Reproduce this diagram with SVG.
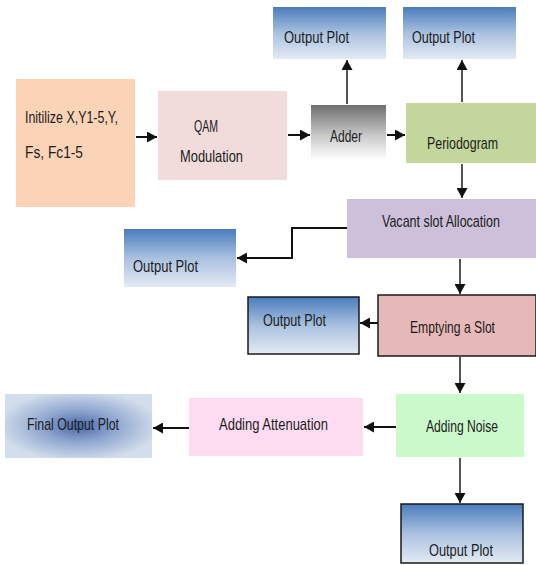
<svg xmlns="http://www.w3.org/2000/svg" width="536" height="565" viewBox="0 0 536 565">
<style>
text{font-family:"Liberation Sans",Arial,sans-serif;font-size:17px;fill:#1c1c1c;}
.k{fill:none;stroke:#111;stroke-width:2;marker-end:url(#ah);}
.g{fill:none;stroke:#555;stroke-width:2;marker-end:url(#ah);}
.bd{stroke:#1a1a1a;stroke-width:1.5;}
</style>
<defs>
<linearGradient id="blue" x1="0" y1="0" x2="0" y2="1">
<stop offset="0" stop-color="#4a7dbd"/>
<stop offset="0.5" stop-color="#a9c1df"/>
<stop offset="1" stop-color="#e3eaf4"/>
</linearGradient>
<linearGradient id="gray" x1="0" y1="0" x2="0" y2="1">
<stop offset="0" stop-color="#6e6e6e"/>
<stop offset="0.55" stop-color="#c8c8c8"/>
<stop offset="1" stop-color="#ffffff"/>
</linearGradient>
<radialGradient id="rad" cx="0.5" cy="0.5" r="0.55">
<stop offset="0" stop-color="#4868a8"/>
<stop offset="0.45" stop-color="#8ea6cf"/>
<stop offset="1" stop-color="#d3deec"/>
</radialGradient>
<marker id="ah" markerUnits="userSpaceOnUse" markerWidth="10" markerHeight="11" refX="10" refY="5.5" orient="auto">
<path d="M0,0 L10,5.5 L0,11 z" fill="#111"/>
</marker>
</defs>

<g id="init"><rect x="16" y="79" width="119" height="128" fill="#fbd4b8"/>
<text x="25" y="123" textLength="93" lengthAdjust="spacingAndGlyphs">Initilize X,Y1-5,Y,</text><text x="25" y="158" textLength="58" lengthAdjust="spacingAndGlyphs">Fs, Fc1-5</text></g>

<g id="qam"><rect x="158" y="91" width="129" height="89" fill="#f2dcdb"/>
<text x="194" y="132" textLength="24" lengthAdjust="spacingAndGlyphs">QAM</text><text x="180" y="162" textLength="63" lengthAdjust="spacingAndGlyphs">Modulation</text></g>

<g id="adder"><rect x="311" y="105" width="75" height="55" fill="url(#gray)"/>
<text x="330" y="142" textLength="32" lengthAdjust="spacingAndGlyphs">Adder</text></g>

<g id="periodogram"><rect x="406" y="103" width="130" height="60" fill="#c3d69b"/>
<text x="427" y="149" textLength="71" lengthAdjust="spacingAndGlyphs">Periodogram</text></g>

<g id="out1"><rect x="273" y="7" width="113" height="52" fill="url(#blue)"/>
<text x="284" y="43" textLength="65" lengthAdjust="spacingAndGlyphs">Output Plot</text></g>

<g id="out2"><rect x="403" y="7" width="113" height="52" fill="url(#blue)"/>
<text x="412" y="43" textLength="63" lengthAdjust="spacingAndGlyphs">Output Plot</text></g>

<g id="vacant"><rect x="347" y="199" width="189" height="59" fill="#ccc0da"/>
<text x="382" y="227" textLength="118" lengthAdjust="spacingAndGlyphs">Vacant slot Allocation</text></g>

<g id="out3"><rect x="124" y="229" width="112" height="58" fill="url(#blue)"/>
<text x="133" y="272" textLength="65" lengthAdjust="spacingAndGlyphs">Output Plot</text></g>

<g id="emptying"><rect x="378" y="295" width="158" height="61" fill="#e6b9b8" class="bd"/>
<text x="410" y="333" textLength="85" lengthAdjust="spacingAndGlyphs">Emptying a Slot</text></g>

<g id="out4"><rect x="248" y="297" width="111" height="57" fill="url(#blue)" class="bd"/>
<text x="263" y="326" textLength="63" lengthAdjust="spacingAndGlyphs">Output Plot</text></g>

<g id="noise"><rect x="396" y="394" width="128" height="63" fill="#ccf9cb"/>
<text x="426" y="432" textLength="72" lengthAdjust="spacingAndGlyphs">Adding Noise</text></g>

<g id="attenuation"><rect x="189" y="398" width="174" height="58" fill="#fddcf1"/>
<text x="219" y="430" textLength="109" lengthAdjust="spacingAndGlyphs">Adding Attenuation</text></g>

<g id="final"><rect x="5" y="394" width="147" height="64" fill="url(#rad)"/>
<text x="27" y="430" textLength="92" lengthAdjust="spacingAndGlyphs">Final Output Plot</text></g>

<g id="out5"><rect x="401" y="504" width="122" height="59" fill="url(#blue)" class="bd"/>
<text x="429" y="556" textLength="64" lengthAdjust="spacingAndGlyphs">Output Plot</text></g>

<g id="connectors">
<line class="k" x1="136" y1="137" x2="157" y2="137"/>
<line class="k" x1="288" y1="135" x2="310" y2="135"/>
<line class="k" x1="387" y1="135" x2="405" y2="135"/>
<line class="g" x1="347" y1="104" x2="347" y2="60"/>
<line class="g" x1="462" y1="102" x2="462" y2="60"/>
<line class="g" x1="462" y1="164" x2="462" y2="198"/>
<path class="k" d="M347,228 H292 V258 H237"/>
<line class="g" x1="460" y1="259" x2="460" y2="294"/>
<line class="k" x1="378" y1="323" x2="360" y2="323"/>
<line class="g" x1="460" y1="357" x2="460" y2="393"/>
<line class="k" x1="396" y1="427" x2="364" y2="427"/>
<line class="k" x1="189" y1="428" x2="153" y2="428"/>
<line class="g" x1="460" y1="458" x2="460" y2="503"/>
</g>
</svg>
